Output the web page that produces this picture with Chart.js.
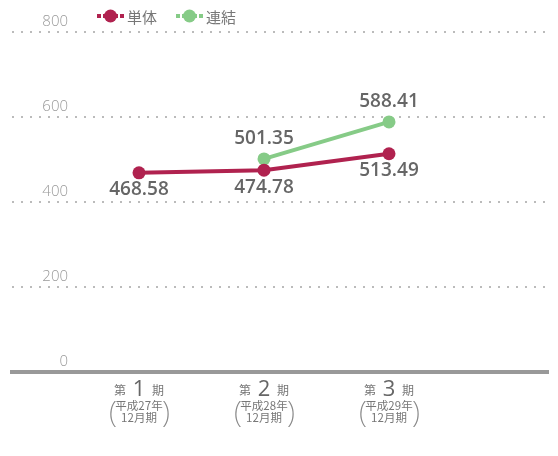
<!DOCTYPE html>
<html>
<head>
<meta charset="utf-8">
<script src="https://cdn.jsdelivr.net/npm/chart.js@4"></script>
<style>
  html, body { margin: 0; padding: 0; background: #fff; }
  #wrap { width: 558px; height: 456px; }
</style>
</head>
<body>
<div id="wrap"><canvas id="chart1"></canvas></div>
<script>
// data
const periods = [1, 2, 3];
const periodYears = ['平成27年', '平成28年', '平成29年'];
const periodMonth = ['12月期', '12月期', '12月期'];
const tanntai = [468.58, 474.78, 513.49];       // 単体
const renketsu = [null, 501.35, 588.41];        // 連結
const yTicks = [0, 200, 400, 600, 800];

const RED = '#b0224f';
const GREEN = '#86cb87';
const JP = '"Noto Sans CJK JP", "Noto Sans", sans-serif';

// labels, legend and period captions
const extras = {
  id: 'extras',
  afterDatasetsDraw(chart) {
    const c = chart.ctx;
    const xs = chart.scales.x, ys = chart.scales.y;
    c.save();

    // value labels
    c.font = '600 19px "Open Sans", sans-serif';
    c.fillStyle = '#666';
    c.textAlign = 'center';
    c.textBaseline = 'middle';
    periods.forEach((p, i) => {
      const x = xs.getPixelForValue(p);
      c.fillText(tanntai[i].toFixed(2), x, ys.getPixelForValue(tanntai[i]) + 17);
      if (renketsu[i] != null) {
        c.fillText(renketsu[i].toFixed(2), x, ys.getPixelForValue(renketsu[i]) - 20);
      }
    });

    // y tick labels, sitting on top of their grid line
    c.font = '300 15px "Open Sans", sans-serif';
    c.fillStyle = '#999';
    c.textAlign = 'right';
    c.textBaseline = 'alphabetic';
    yTicks.forEach(v => c.fillText(String(v), 68, ys.getPixelForValue(v) - 6));

    // period captions under the axis
    periods.forEach((p, i) => {
      const x = xs.getPixelForValue(p);
      c.textBaseline = 'alphabetic';
      c.textAlign = 'center';
      c.fillStyle = '#777';
      c.font = '12px ' + JP;
      c.fillText('第', x - 19, 395);
      c.fillText('期', x + 19, 395);
      c.fillStyle = '#666';
      c.font = '22px "Open Sans", sans-serif';
      c.fillText(String(p), x, 396);

      c.fillStyle = '#777';
      c.font = '11.5px ' + JP;
      c.fillText(periodYears[i], x, 410);
      c.fillText(periodMonth[i], x, 422);
      c.font = '200 30px "Noto Sans", sans-serif';
      c.fillStyle = '#888';
      c.fillText('(', x - 26, 422);
      c.fillText(')', x + 27, 422);
    });

    // legend
    const items = [['単体', RED, 97], ['連結', GREEN, 176]];
    items.forEach(([t, col, lx]) => {
      const ly = 16;
      c.strokeStyle = col;
      c.lineWidth = 4;
      c.beginPath();
      c.moveTo(lx, ly); c.lineTo(lx + 27, ly);
      c.stroke();
      c.strokeStyle = '#fff';
      c.lineWidth = 2;
      c.beginPath();
      c.moveTo(lx + 5, ly - 3); c.lineTo(lx + 5, ly + 3);
      c.moveTo(lx + 22, ly - 3); c.lineTo(lx + 22, ly + 3);
      c.stroke();
      c.fillStyle = col;
      c.beginPath();
      c.arc(lx + 13.5, ly, 6.5, 0, Math.PI * 2);
      c.fill();
      c.fillStyle = '#777';
      c.font = '15px ' + JP;
      c.textAlign = 'left';
      c.textBaseline = 'middle';
      c.fillText(t, lx + 30, ly + 1);
    });
    c.restore();
  }
};

new Chart(document.getElementById('chart1'), {
  type: 'line',
  data: {
    datasets: [
      {
        label: '単体',
        data: periods.map((p, i) => ({ x: p, y: tanntai[i] })),
        borderColor: RED,
        backgroundColor: RED,
        borderWidth: 4,
        pointRadius: 6.5,
        pointHoverRadius: 6.5,
        pointBorderWidth: 0
      },
      {
        label: '連結',
        data: periods.map((p, i) => ({ x: p, y: renketsu[i] })),
        borderColor: GREEN,
        backgroundColor: GREEN,
        borderWidth: 4,
        pointRadius: 6.5,
        pointHoverRadius: 6.5,
        pointBorderWidth: 0,
        spanGaps: false
      }
    ]
  },
  options: {
    responsive: true,
    maintainAspectRatio: false,
    animation: false,
    layout: { padding: { left: 12, right: 10, top: 32, bottom: 76 } },
    plugins: { legend: { display: false }, tooltip: { enabled: false } },
    scales: {
      x: {
        type: 'linear',
        min: -0.016,
        max: 4.272,
        grid: { display: false },
        ticks: { display: false },
        border: { display: true, color: '#999', width: 4 }
      },
      y: {
        min: 0,
        max: 800,
        afterBuildTicks: axis => { axis.ticks = yTicks.map(v => ({ value: v })); },
        ticks: { display: false },
        grid: {
          color: c => c.tick.value === 0 ? 'rgba(0,0,0,0)' : '#bbb',
          lineWidth: 2,
          drawTicks: false
        },
        border: { display: false, dash: [2, 7] }
      }
    }
  },
  plugins: [extras]
});
</script>
</body>
</html>
